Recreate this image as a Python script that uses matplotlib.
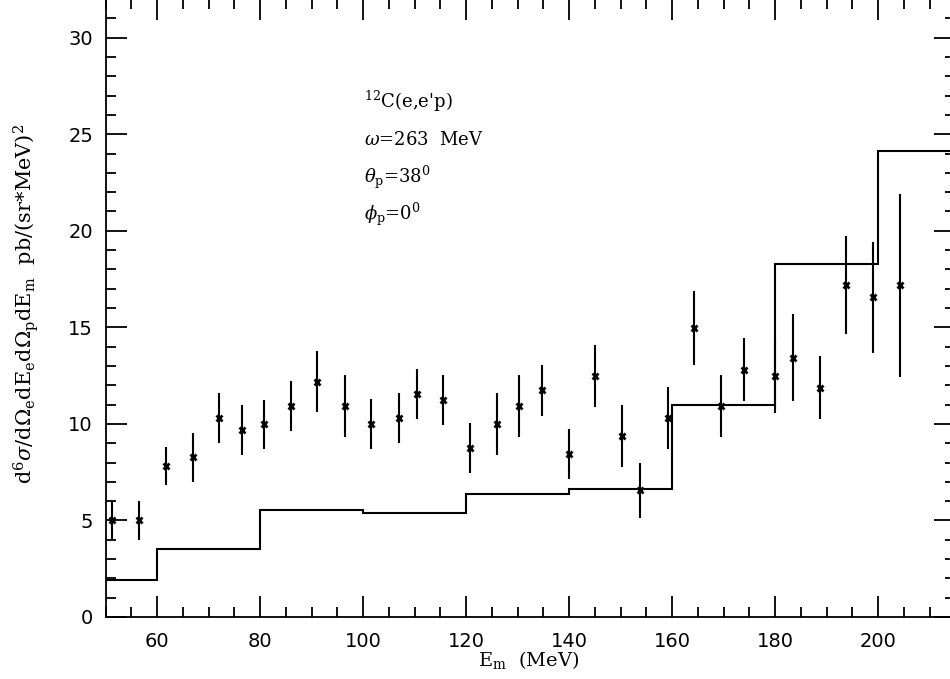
import numpy as np
import matplotlib
matplotlib.use('Agg')
import matplotlib.pyplot as plt
from matplotlib.ticker import MultipleLocator

# measured points: missing energy, cross section, error
em = [51.3, 56.5, 61.7, 66.9, 72.0, 76.4, 80.8, 86.0, 91.1, 96.4, 101.6,
      106.9, 110.4, 115.6, 120.8, 126.0, 130.3, 134.8, 139.9, 145.1, 150.3,
      153.8, 159.1, 164.3, 169.5, 173.9, 179.9, 183.4, 188.6, 193.8, 199.0, 204.2]
xsec = [5.0, 5.0, 7.82, 8.27, 10.29, 9.69, 9.98, 10.92, 12.19, 10.93, 10.0,
        10.29, 11.55, 11.24, 8.76, 10.0, 10.93, 11.73, 8.43, 12.49, 9.38,
        6.57, 10.29, 14.98, 10.91, 12.8, 12.48, 13.43, 11.87, 17.18, 16.55, 17.18]
err = [1.0, 1.0, 0.97, 1.28, 1.3, 1.28, 1.28, 1.3, 1.6, 1.59, 1.3,
       1.3, 1.3, 1.3, 1.3, 1.6, 1.6, 1.3, 1.28, 1.62, 1.6,
       1.43, 1.6, 1.91, 1.6, 1.63, 1.91, 2.26, 1.62, 2.54, 2.87, 4.73]

# calculation, binned in 20 MeV steps
bin_edges = [50, 60, 80, 100, 120, 140, 160, 180, 200, 230]
calc = [1.9, 3.52, 5.55, 5.37, 6.36, 6.61, 11.0, 18.27, 24.15]

plt.rcParams['mathtext.fontset'] = 'dejavuserif'

fig = plt.figure(figsize=(9.5, 6.79), dpi=100)
ax = fig.add_axes([105.5 / 950, 62 / 679, 849 / 950, 618 / 679])

ax.stairs(calc, bin_edges, color='black', lw=1.5, baseline=None)
ax.errorbar(em, xsec, yerr=err, fmt='none', ecolor='black', elinewidth=1.5)
ax.plot(em, xsec, ls='none', marker='x', ms=4.5, mew=2, color='black')

ax.set_xlim(50, 214.8)
ax.set_ylim(0, 32)
ax.xaxis.set_major_locator(MultipleLocator(20))
ax.xaxis.set_minor_locator(MultipleLocator(5))
ax.yaxis.set_major_locator(MultipleLocator(5))
ax.yaxis.set_minor_locator(MultipleLocator(1))
ax.tick_params(which='both', direction='in', top=True, right=True, width=1.3)
ax.tick_params(which='major', length=15)
ax.tick_params(which='minor', length=7.5)
ax.tick_params(axis='y', labelsize=14, pad=9)
ax.tick_params(axis='x', labelsize=14, pad=10.5)
for s in ax.spines.values():
    s.set_linewidth(1.3)

ax.set_xlabel(r'E$_{\rm m}$  (MeV)', family='DejaVu Serif', fontsize=14)
ax.xaxis.set_label_coords(0.498, -0.07)
ax.xaxis.label.set_va('center')
ax.set_ylabel(r'd$^6\sigma$/d$\Omega_{\rm e}$dE$_{\rm e}$d$\Omega_{\rm p}$dE$_{\rm m}$  pb/(sr*MeV)$^2$',
              family='DejaVu Serif', fontsize=15)
ax.yaxis.set_label_coords(-0.094, 0.507)
ax.yaxis.label.set_va('center')

labels = [r"$^{12}$C(e,e'p)", r'$\omega$=263  MeV', r'$\theta_{\rm p}$=38$^0$', r'$\phi_{\rm p}$=0$^0$']
for i, t in enumerate(labels):
    ax.text(0.304, 0.824 - i * 0.0605, t, transform=ax.transAxes,
            family='DejaVu Serif', fontsize=13, va='baseline')

fig.savefig('out.png', dpi=100)
